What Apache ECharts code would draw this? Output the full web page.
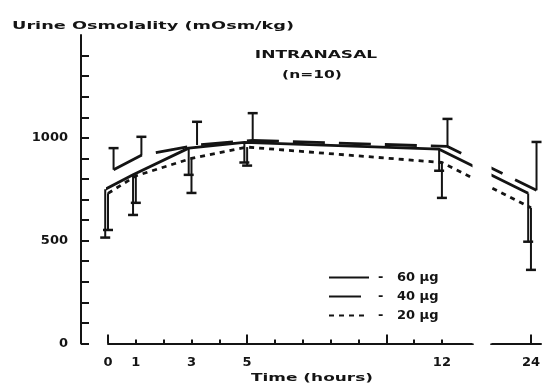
<!DOCTYPE html>
<html>
<head>
<meta charset="utf-8">
<script src="https://cdn.jsdelivr.net/npm/echarts@6/dist/echarts.min.js"></script>
<style>
  html, body { margin: 0; padding: 0; background: #fff; }
  #container { width: 543px; height: 384px; }
</style>
</head>
<body>
<div id="container"></div>
<script>
// time points (hours)
var hours = [0, 1, 3, 5, 12, 24];

// mean urine osmolality, mOsm/kg
var mean60 = [750, 820, 950, 978, 945, 730];
var mean40 = [845, 915, 965, 988, 958, 745];
var mean20 = [730, 815, 900, 955, 880, 660];

// error bar ends
var upper40 = [950, 1005, 1078, 1120, 1092, 980];
var lower60 = [515, 625, 820, 880, 840, 495];
var lower20 = [552, 684, 732, 865, 708, 358];

var xLabels = [0, 1, 3, 5, 12, 24];
var yLabels = [0, 500, 1000];

var ink = '#141414';
var font = '"DejaVu Sans", sans-serif';

function pts(vals, shift) {
  return hours.map(function (t, i) { return [t + shift, vals[i]]; });
}
function bars(vals, ends) {
  return hours.map(function (t, i) { return [t, vals[i], ends[i]]; });
}
// vertical error bar with a cap at the far end
function barItem(shift) {
  return function (params, api) {
    var a = api.coord([api.value(0) + shift, api.value(1)]);
    var b = api.coord([api.value(0) + shift, api.value(2)]);
    return {
      type: 'group',
      children: [
        { type: 'line', shape: { x1: a[0], y1: a[1], x2: b[0], y2: b[1] }, style: { stroke: ink, lineWidth: 2 } },
        { type: 'line', shape: { x1: b[0] - 5, y1: b[1], x2: b[0] + 5, y2: b[1] }, style: { stroke: ink, lineWidth: 2.5 } }
      ]
    };
  };
}

var xBreak = [{ start: 13.1, end: 22.56, gap: 0.66 }];
var minorHours = [1, 2, 3, 4, 6, 7, 8, 9, 11, 12];
// the gap in the time axis is left blank, as in the scan
var breakLook = {
  show: true,
  zigzagAmplitude: 0,
  itemStyle: { color: '#fff', borderColor: '#fff', borderWidth: 0, opacity: 1 }
};

var chart = echarts.init(document.getElementById('container'));
var option = {
  backgroundColor: '#fff',
  animation: false,
  grid: { left: 108, right: 2, top: 35, bottom: 40.5 },
  xAxis: [{
    type: 'value',
    min: 0,
    max: 24.36,
    breaks: xBreak,
    breakArea: breakLook,
    splitLine: { show: false },
    axisLine: { show: true, onZero: false, lineStyle: { color: ink, width: 2 } },
    axisTick: { show: true, inside: true, length: 9, customValues: [0, 5, 10, 24], lineStyle: { color: ink, width: 2 } },
    axisLabel: { customValues: xLabels, color: ink, fontFamily: font, fontWeight: 'bold', fontSize: 13, margin: 13 }
  }, {
    type: 'value',
    min: 0,
    max: 24.36,
    breaks: xBreak,
    breakArea: { show: false },
    position: 'bottom',
    splitLine: { show: false },
    axisLine: { show: false },
    axisTick: { show: true, inside: true, length: 4, customValues: minorHours, lineStyle: { color: ink, width: 2 } },
    axisLabel: { show: false }
  }],
  yAxis: {
    type: 'value',
    min: 0,
    max: 1500,
    interval: 100,
    offset: 27,
    splitLine: { show: false },
    axisLine: { show: true, onZero: false, lineStyle: { color: ink, width: 2 } },
    axisTick: {
      show: true, inside: true, length: 8,
      customValues: [0, 100, 200, 300, 400, 500, 600, 700, 800, 900, 1000, 1100, 1200, 1300, 1400],
      lineStyle: { color: ink, width: 2 }
    },
    axisLabel: {
      customValues: yLabels, color: ink, fontFamily: font, fontWeight: 'bold', fontSize: 13, margin: 13,
      formatter: function (v) { return String(v); }
    }
  },
  legend: {
    orient: 'vertical',
    left: 323,
    top: 266,
    itemWidth: 40,
    itemHeight: 14,
    itemGap: 6,
    data: ['60 µg', '40 µg', '20 µg'],
    itemStyle: { opacity: 0 },
    formatter: function (name) { return '-   ' + name; },
    textStyle: { color: ink, fontFamily: font, fontWeight: 'bold', fontSize: 13, padding: [0, 0, 0, 4] }
  },
  graphic: [
    { type: 'text', x: 12, y: 26, scaleX: 1.61, style: { text: 'Urine Osmolality (mOsm/kg)', font: 'bold 11px ' + font, fill: ink, textAlign: 'left', textVerticalAlign: 'middle' } },
    { type: 'text', x: 316, y: 55, scaleX: 1.55, style: { text: 'INTRANASAL', font: 'bold 11px ' + font, fill: ink, textAlign: 'center', textVerticalAlign: 'middle' } },
    { type: 'text', x: 312, y: 75, scaleX: 1.41, style: { text: '(n=10)', font: 'bold 11px ' + font, fill: ink, textAlign: 'center', textVerticalAlign: 'middle' } },
    { type: 'text', x: 312, y: 378, scaleX: 1.54, style: { text: 'Time (hours)', font: 'bold 11px ' + font, fill: ink, textAlign: 'center', textVerticalAlign: 'middle' } }
  ],
  series: [
    {
      name: '60 µg', type: 'line', symbol: 'none', clip: false, z: 5,
      data: pts(mean60, -0.1),
      lineStyle: { color: ink, width: 2.8, type: 'solid' },
      itemStyle: { color: ink }
    },
    {
      name: '40 µg', type: 'line', symbol: 'none', clip: false, z: 5,
      data: pts(mean40, 0.2),
      lineStyle: { color: ink, width: 2.8, type: [32, 14] },
      itemStyle: { color: ink }
    },
    {
      name: '20 µg', type: 'line', symbol: 'none', clip: false, z: 5,
      data: pts(mean20, 0),
      lineStyle: { color: ink, width: 2.8, type: [5, 5] },
      itemStyle: { color: ink }
    },
    { type: 'custom', clip: false, z: 5, renderItem: barItem(0.2), data: bars(mean40, upper40) },
    { type: 'custom', clip: false, z: 5, renderItem: barItem(-0.1), data: bars(mean60, lower60) },
    { type: 'custom', clip: false, z: 5, renderItem: barItem(0), data: bars(mean20, lower20) }
  ]
};
chart.setOption(option);
</script>
</body>
</html>
